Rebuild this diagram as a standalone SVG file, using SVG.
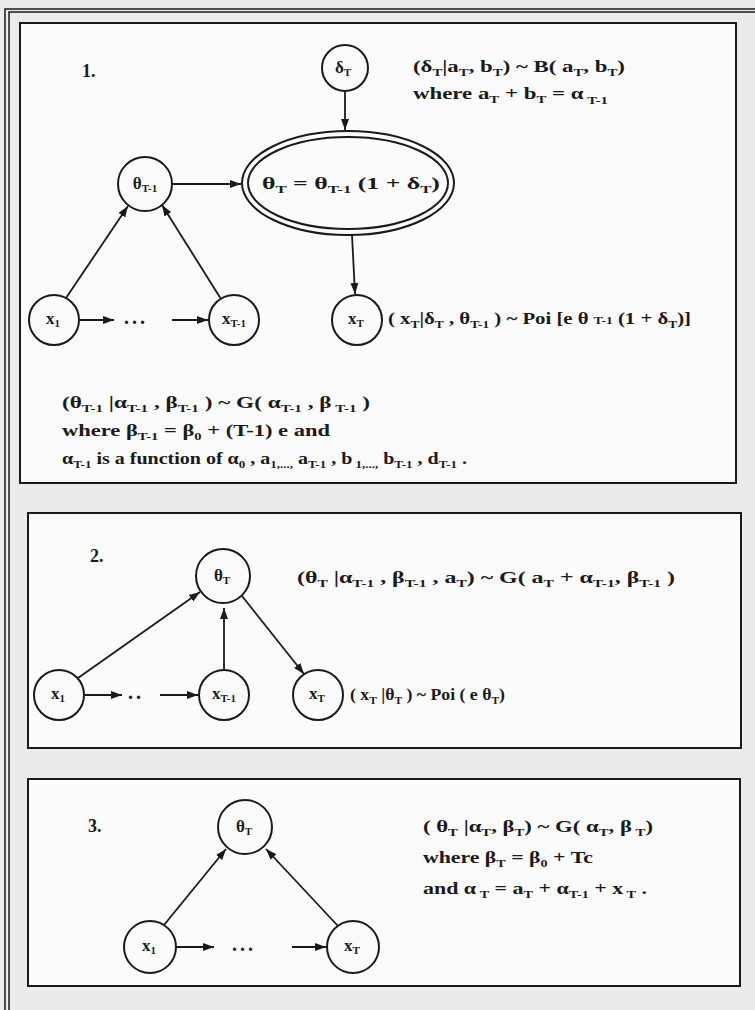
<svg xmlns="http://www.w3.org/2000/svg" width="755" height="1010" viewBox="0 0 755 1010">
<defs>
<marker id="ah" markerWidth="11" markerHeight="8" refX="11" refY="4" orient="auto" markerUnits="userSpaceOnUse">
<path d="M0,0 L11,4 L0,8 z" fill="#1a1a1a"/>
</marker>
<style>
.bg{fill:#ebebeb}
.panel{fill:#fbfbfb;stroke:#1a1a1a;stroke-width:2}
.node{fill:none;stroke:#1a1a1a;stroke-width:2}
.edge{stroke:#1a1a1a;stroke-width:1.8;fill:none;marker-end:url(#ah)}
.t{font-family:"Liberation Serif","Times New Roman",serif;font-weight:bold;font-size:17px;fill:#1a1a1a}
.n{font-family:"Liberation Serif","Times New Roman",serif;font-weight:bold;font-size:17px;fill:#1a1a1a;text-anchor:middle}
.num{font-family:"Liberation Serif","Times New Roman",serif;font-weight:bold;font-size:18px;fill:#1a1a1a}
.s{font-size:11px}
.dots{font-family:"Liberation Serif",serif;font-weight:bold;font-size:20px;fill:#1a1a1a;letter-spacing:3px}
</style>
</defs>
<rect class="bg" x="0" y="0" width="755" height="1010"/>
<path d="M5,1010 V9 H755 M9,1010 V12 H755" stroke="#1a1a1a" stroke-width="1.5" fill="none"/>

<!-- Panel 1 -->
<g id="panel1">
<rect class="panel" x="20" y="23" width="716" height="460"/>
<text class="num" x="82" y="77">1.</text>
<text class="t" x="413" y="72" textLength="212" lengthAdjust="spacingAndGlyphs">(δ<tspan class="s" dy="4">T</tspan><tspan dy="-4">|a</tspan><tspan class="s" dy="4">T</tspan><tspan dy="-4">, b</tspan><tspan class="s" dy="4">T</tspan><tspan dy="-4">) ~ B( a</tspan><tspan class="s" dy="4">T</tspan><tspan dy="-4">, b</tspan><tspan class="s" dy="4">T</tspan><tspan dy="-4">)</tspan></text>
<text class="t" x="413" y="99" textLength="195" lengthAdjust="spacingAndGlyphs">where  a<tspan class="s" dy="4">T</tspan><tspan dy="-4"> + b</tspan><tspan class="s" dy="4">T</tspan><tspan dy="-4"> = α</tspan><tspan class="s" dy="5"> T-1</tspan></text>
<text class="t" x="388" y="324" textLength="303" lengthAdjust="spacingAndGlyphs">( x<tspan class="s" dy="4">T</tspan><tspan dy="-4">|δ</tspan><tspan class="s" dy="4">T</tspan><tspan dy="-4"> , θ</tspan><tspan class="s" dy="4">T-1</tspan><tspan dy="-4"> ) ~ Poi [e θ </tspan><tspan class="s">T-1</tspan><tspan> (1 + δ</tspan><tspan class="s" dy="4">T</tspan><tspan dy="-4">)]</tspan></text>
<text class="t" x="62" y="408" textLength="308" lengthAdjust="spacingAndGlyphs">(θ<tspan class="s" dy="4">T-1</tspan><tspan dy="-4"> |α</tspan><tspan class="s" dy="4">T-1</tspan><tspan dy="-4"> , β</tspan><tspan class="s" dy="4">T-1</tspan><tspan dy="-4">  ) ~ G( α</tspan><tspan class="s" dy="4">T-1</tspan><tspan dy="-4"> , β</tspan><tspan class="s" dy="4"> T-1</tspan><tspan dy="-4"> )</tspan></text>
<text class="t" x="62" y="436" textLength="268" lengthAdjust="spacingAndGlyphs">where  β<tspan class="s" dy="4">T-1</tspan><tspan dy="-4">  = β</tspan><tspan class="s" dy="4">0</tspan><tspan dy="-4"> + (T-1) e  and</tspan></text>
<text class="t" x="62" y="464" textLength="405" lengthAdjust="spacingAndGlyphs">α<tspan class="s" dy="4">T-1</tspan><tspan dy="-4">  is a function of  α</tspan><tspan class="s" dy="4">0</tspan><tspan dy="-4"> , a</tspan><tspan class="s" dy="4">1,...,</tspan><tspan dy="-4"> a</tspan><tspan class="s" dy="4">T-1</tspan><tspan dy="-4"> , b</tspan><tspan class="s" dy="4"> 1,...,</tspan><tspan dy="-4"> b</tspan><tspan class="s" dy="4">T-1</tspan><tspan dy="-4"> , d</tspan><tspan class="s" dy="4">T-1</tspan><tspan dy="-4"> .</tspan></text>
</g>
<g id="p1-delta"><circle class="node" cx="345" cy="68" r="23"/><text class="n" x="343" y="73">δ<tspan class="s" dy="3">T</tspan></text></g>
<g id="p1-theta"><ellipse class="node" cx="348" cy="183" rx="106" ry="52"/><ellipse class="node" cx="348" cy="183" rx="100" ry="46" stroke-width="1.5"/><text class="t" x="262" y="189" textLength="178" lengthAdjust="spacingAndGlyphs">θ<tspan class="s" dy="4">T</tspan><tspan dy="-4"> = θ</tspan><tspan class="s" dy="4">T-1</tspan><tspan dy="-4">  (1 + δ</tspan><tspan class="s" dy="4">T</tspan><tspan dy="-4">)</tspan></text></g>
<g id="p1-thetaprev"><circle class="node" cx="145" cy="184" r="27"/><text class="n" x="145" y="189">θ<tspan class="s" dy="3">T-1</tspan></text></g>
<g id="p1-x1"><circle class="node" cx="54" cy="320" r="25"/><text class="n" x="53" y="324">x<tspan class="s" dy="3">1</tspan></text></g>
<g id="p1-xprev"><circle class="node" cx="234" cy="320" r="25"/><text class="n" x="234" y="324">x<tspan class="s" dy="3">T-1</tspan></text></g>
<g id="p1-xT"><circle class="node" cx="357" cy="320" r="25"/><text class="n" x="356" y="324">x<tspan class="s" dy="3">T</tspan></text></g>

<!-- Panel 2 -->
<g id="panel2">
<rect class="panel" x="28" y="513" width="713" height="235"/>
<text class="num" x="90" y="562">2.</text>
<text class="t" x="297" y="583" textLength="378" lengthAdjust="spacingAndGlyphs">(θ<tspan class="s" dy="4">T</tspan><tspan dy="-4"> |α</tspan><tspan class="s" dy="4">T-1</tspan><tspan dy="-4"> , β</tspan><tspan class="s" dy="4">T-1</tspan><tspan dy="-4"> , a</tspan><tspan class="s" dy="4">T</tspan><tspan dy="-4">) ~ G( a</tspan><tspan class="s" dy="4">T</tspan><tspan dy="-4"> + α</tspan><tspan class="s" dy="4">T-1</tspan><tspan dy="-4">, β</tspan><tspan class="s" dy="4">T-1</tspan><tspan dy="-4"> )</tspan></text>
<text class="t" x="350" y="700" textLength="155" lengthAdjust="spacingAndGlyphs">( x<tspan class="s" dy="4">T</tspan><tspan dy="-4"> |θ</tspan><tspan class="s" dy="4">T</tspan><tspan dy="-4"> ) ~ Poi ( e θ</tspan><tspan class="s" dy="4">T</tspan><tspan dy="-4">)</tspan></text>
</g>
<g id="p2-theta"><circle class="node" cx="223" cy="576" r="27"/><text class="n" x="222" y="581">θ<tspan class="s" dy="3">T</tspan></text></g>
<g id="p2-x1"><circle class="node" cx="59" cy="695" r="25"/><text class="n" x="58" y="699">x<tspan class="s" dy="3">1</tspan></text></g>
<g id="p2-xprev"><circle class="node" cx="224" cy="695" r="25"/><text class="n" x="224" y="699">x<tspan class="s" dy="3">T-1</tspan></text></g>
<g id="p2-xT"><circle class="node" cx="318" cy="695" r="25"/><text class="n" x="317" y="699">x<tspan class="s" dy="3">T</tspan></text></g>

<!-- Panel 3 -->
<g id="panel3">
<rect class="panel" x="28" y="779" width="712" height="207"/>
<text class="num" x="88" y="832">3.</text>
<text class="t" x="423" y="832" textLength="230" lengthAdjust="spacingAndGlyphs">( θ<tspan class="s" dy="4">T</tspan><tspan dy="-4"> |α</tspan><tspan class="s" dy="4">T</tspan><tspan dy="-4">, β</tspan><tspan class="s" dy="4">T</tspan><tspan dy="-4">) ~ G( α</tspan><tspan class="s" dy="4">T</tspan><tspan dy="-4">, β</tspan><tspan class="s" dy="4"> T</tspan><tspan dy="-4">)</tspan></text>
<text class="t" x="423" y="863" textLength="170" lengthAdjust="spacingAndGlyphs">where  β<tspan class="s" dy="4">T</tspan><tspan dy="-4"> = β</tspan><tspan class="s" dy="4">0</tspan><tspan dy="-4"> + Tc</tspan></text>
<text class="t" x="423" y="894" textLength="224" lengthAdjust="spacingAndGlyphs">and  α<tspan class="s" dy="4"> T</tspan><tspan dy="-4"> = a</tspan><tspan class="s" dy="4">T</tspan><tspan dy="-4"> + α</tspan><tspan class="s" dy="4">T-1</tspan><tspan dy="-4"> + x</tspan><tspan class="s" dy="4"> T</tspan><tspan dy="-4"> .</tspan></text>
</g>
<g id="p3-theta"><circle class="node" cx="245" cy="827" r="27"/><text class="n" x="244" y="832">θ<tspan class="s" dy="3">T</tspan></text></g>
<g id="p3-x1"><circle class="node" cx="150" cy="947" r="26"/><text class="n" x="149" y="951">x<tspan class="s" dy="3">1</tspan></text></g>
<g id="p3-xT"><circle class="node" cx="353" cy="947" r="26"/><text class="n" x="352" y="951">x<tspan class="s" dy="3">T</tspan></text></g>

<g id="connectors">
<line class="edge" x1="345" y1="91" x2="345" y2="130"/>
<line class="edge" x1="172" y1="184" x2="241" y2="184"/>
<line class="edge" x1="352" y1="235" x2="355" y2="294"/>
<line class="edge" x1="66" y1="298" x2="128" y2="206"/>
<line class="edge" x1="221" y1="299" x2="162" y2="205"/>
<line class="edge" x1="80" y1="320" x2="114" y2="320"/>
<text class="dots" x="124" y="324">...</text>
<line class="edge" x1="172" y1="320" x2="208" y2="320"/>

<line class="edge" x1="78" y1="678" x2="200" y2="592"/>
<line class="edge" x1="224" y1="670" x2="224" y2="608"/>
<line class="edge" x1="242" y1="596" x2="304" y2="674"/>
<line class="edge" x1="85" y1="695" x2="122" y2="695"/>
<text class="dots" x="128" y="699">..</text>
<line class="edge" x1="160" y1="695" x2="198" y2="695"/>

<line class="edge" x1="164" y1="925" x2="226" y2="849"/>
<line class="edge" x1="338" y1="926" x2="266" y2="849"/>
<line class="edge" x1="177" y1="947" x2="214" y2="947"/>
<text class="dots" x="232" y="951">...</text>
<line class="edge" x1="292" y1="947" x2="326" y2="947"/>
</g>
</svg>
